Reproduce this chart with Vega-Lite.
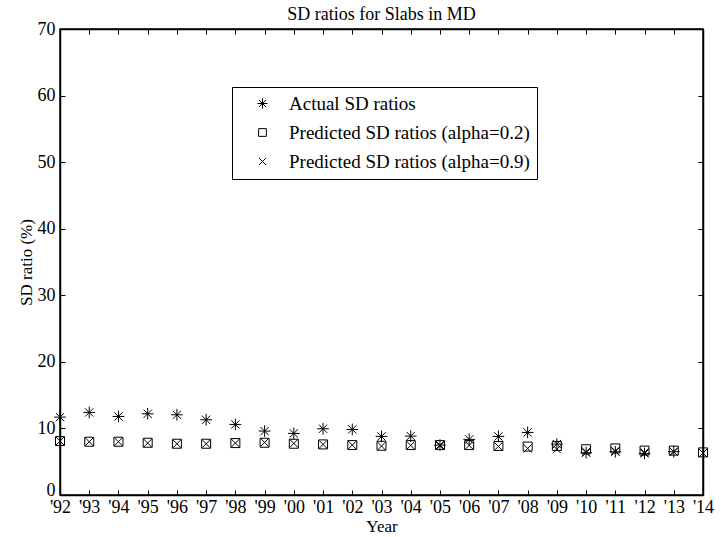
{
  "$schema": "https://vega.github.io/schema/vega-lite/v6.json",
  "autosize": "none",
  "width": 643,
  "height": 466,
  "padding": {"left": 60, "top": 29, "right": 18, "bottom": 42},
  "background": "white",
  "config": {
    "view": {"stroke": "black", "strokeWidth": 1.5},
    "axis": {"grid": false, "domainColor": "black", "domainWidth": 1.5, "tickColor": "black", "labelColor": "black", "titleColor": "black", "titleFontWeight": "normal", "tickSize": -5, "tickWidth": 1}
  },
  "title": {"text": "SD ratios for Slabs in MD", "font": "Liberation Serif", "fontSize": 18, "fontWeight": "normal", "color": "black", "offset": -4},
  "data": {"values": [
    {"year": 1992, "series": "Actual SD ratios", "value": 11.7},
    {"year": 1993, "series": "Actual SD ratios", "value": 12.4},
    {"year": 1994, "series": "Actual SD ratios", "value": 11.8},
    {"year": 1995, "series": "Actual SD ratios", "value": 12.2},
    {"year": 1996, "series": "Actual SD ratios", "value": 12.05},
    {"year": 1997, "series": "Actual SD ratios", "value": 11.3},
    {"year": 1998, "series": "Actual SD ratios", "value": 10.6},
    {"year": 1999, "series": "Actual SD ratios", "value": 9.6},
    {"year": 2000, "series": "Actual SD ratios", "value": 9.25},
    {"year": 2001, "series": "Actual SD ratios", "value": 9.95},
    {"year": 2002, "series": "Actual SD ratios", "value": 9.85},
    {"year": 2003, "series": "Actual SD ratios", "value": 8.8},
    {"year": 2004, "series": "Actual SD ratios", "value": 8.85},
    {"year": 2005, "series": "Actual SD ratios", "value": 7.5},
    {"year": 2006, "series": "Actual SD ratios", "value": 8.35},
    {"year": 2007, "series": "Actual SD ratios", "value": 8.8},
    {"year": 2008, "series": "Actual SD ratios", "value": 9.4},
    {"year": 2009, "series": "Actual SD ratios", "value": 7.65},
    {"year": 2010, "series": "Actual SD ratios", "value": 6.35},
    {"year": 2011, "series": "Actual SD ratios", "value": 6.5},
    {"year": 2012, "series": "Actual SD ratios", "value": 6.25},
    {"year": 2013, "series": "Actual SD ratios", "value": 6.5},
    {"year": 1992, "series": "Predicted SD ratios (alpha=0.2)", "value": 8.1},
    {"year": 1993, "series": "Predicted SD ratios (alpha=0.2)", "value": 8.0},
    {"year": 1994, "series": "Predicted SD ratios (alpha=0.2)", "value": 8.0},
    {"year": 1995, "series": "Predicted SD ratios (alpha=0.2)", "value": 7.85},
    {"year": 1996, "series": "Predicted SD ratios (alpha=0.2)", "value": 7.7},
    {"year": 1997, "series": "Predicted SD ratios (alpha=0.2)", "value": 7.7},
    {"year": 1998, "series": "Predicted SD ratios (alpha=0.2)", "value": 7.8},
    {"year": 1999, "series": "Predicted SD ratios (alpha=0.2)", "value": 7.85},
    {"year": 2000, "series": "Predicted SD ratios (alpha=0.2)", "value": 7.7},
    {"year": 2001, "series": "Predicted SD ratios (alpha=0.2)", "value": 7.6},
    {"year": 2002, "series": "Predicted SD ratios (alpha=0.2)", "value": 7.5},
    {"year": 2003, "series": "Predicted SD ratios (alpha=0.2)", "value": 7.4},
    {"year": 2004, "series": "Predicted SD ratios (alpha=0.2)", "value": 7.5},
    {"year": 2005, "series": "Predicted SD ratios (alpha=0.2)", "value": 7.5},
    {"year": 2006, "series": "Predicted SD ratios (alpha=0.2)", "value": 7.5},
    {"year": 2007, "series": "Predicted SD ratios (alpha=0.2)", "value": 7.37},
    {"year": 2008, "series": "Predicted SD ratios (alpha=0.2)", "value": 7.27},
    {"year": 2009, "series": "Predicted SD ratios (alpha=0.2)", "value": 7.37},
    {"year": 2010, "series": "Predicted SD ratios (alpha=0.2)", "value": 6.87},
    {"year": 2011, "series": "Predicted SD ratios (alpha=0.2)", "value": 7.0},
    {"year": 2012, "series": "Predicted SD ratios (alpha=0.2)", "value": 6.67},
    {"year": 2013, "series": "Predicted SD ratios (alpha=0.2)", "value": 6.67},
    {"year": 2014, "series": "Predicted SD ratios (alpha=0.2)", "value": 6.4},
    {"year": 1992, "series": "Predicted SD ratios (alpha=0.9)", "value": 8.1},
    {"year": 1993, "series": "Predicted SD ratios (alpha=0.9)", "value": 8.0},
    {"year": 1994, "series": "Predicted SD ratios (alpha=0.9)", "value": 8.0},
    {"year": 1995, "series": "Predicted SD ratios (alpha=0.9)", "value": 7.8},
    {"year": 1996, "series": "Predicted SD ratios (alpha=0.9)", "value": 7.7},
    {"year": 1997, "series": "Predicted SD ratios (alpha=0.9)", "value": 7.7},
    {"year": 1998, "series": "Predicted SD ratios (alpha=0.9)", "value": 7.8},
    {"year": 1999, "series": "Predicted SD ratios (alpha=0.9)", "value": 7.9},
    {"year": 2000, "series": "Predicted SD ratios (alpha=0.9)", "value": 7.75},
    {"year": 2001, "series": "Predicted SD ratios (alpha=0.9)", "value": 7.6},
    {"year": 2002, "series": "Predicted SD ratios (alpha=0.9)", "value": 7.5},
    {"year": 2003, "series": "Predicted SD ratios (alpha=0.9)", "value": 7.35},
    {"year": 2004, "series": "Predicted SD ratios (alpha=0.9)", "value": 7.45},
    {"year": 2005, "series": "Predicted SD ratios (alpha=0.9)", "value": 7.4},
    {"year": 2006, "series": "Predicted SD ratios (alpha=0.9)", "value": 7.45},
    {"year": 2007, "series": "Predicted SD ratios (alpha=0.9)", "value": 7.3},
    {"year": 2008, "series": "Predicted SD ratios (alpha=0.9)", "value": 7.0},
    {"year": 2009, "series": "Predicted SD ratios (alpha=0.9)", "value": 6.87},
    {"year": 2010, "series": "Predicted SD ratios (alpha=0.9)", "value": 6.5},
    {"year": 2011, "series": "Predicted SD ratios (alpha=0.9)", "value": 6.6},
    {"year": 2012, "series": "Predicted SD ratios (alpha=0.9)", "value": 6.4},
    {"year": 2013, "series": "Predicted SD ratios (alpha=0.9)", "value": 6.5},
    {"year": 2014, "series": "Predicted SD ratios (alpha=0.9)", "value": 6.3}
  ]},
  "layer": [
    {
      "mark": {"type": "point", "filled": false, "color": "black", "strokeWidth": 1, "size": 81, "opacity": 1},
      "encoding": {
        "x": {"field": "year", "type": "quantitative", "scale": {"domain": [1992, 2014], "nice": false, "zero": false},
          "axis": {"title": "Year", "labelFont": "Liberation Serif", "labelFontSize": 18, "titleFont": "Liberation Serif", "titleFontSize": 17, "values": [1992,1993,1994,1995,1996,1997,1998,1999,2000,2001,2002,2003,2004,2005,2006,2007,2008,2009,2010,2011,2012,2013,2014], "format": "d", "labelExpr": "\"'\" + substring(datum.label, 2)", "labelOverlap": false, "labelFlush": false, "labelPadding": 8, "titlePadding": 2}},
        "y": {"field": "value", "type": "quantitative", "scale": {"domain": [0, 70], "nice": false},
          "axis": {"title": "SD ratio (%)", "labelFont": "Liberation Serif", "labelFontSize": 18, "titleFont": "Liberation Serif", "titleFontSize": 17, "values": [0,10,20,30,40,50,60,70], "labelPadding": 10, "titlePadding": 2, "labelFlush": false,
            "labelOffset": {"condition": {"test": "datum.value === 0", "value": -5}, "value": 0}}},
        "shape": {"field": "series", "type": "nominal",
          "scale": {"domain": ["Actual SD ratios", "Predicted SD ratios (alpha=0.2)", "Predicted SD ratios (alpha=0.9)"],
            "range": ["M-1.3,0L1.3,0M0,-1.3L0,1.3M-0.92,-0.92L0.92,0.92M-0.92,0.92L0.92,-0.92", "square", "M-0.9,-0.9L0.9,0.9M-0.9,0.9L0.9,-0.9"]},
          "legend": {"title": null, "orient": "none", "legendX": 172, "legendY": 58, "fillColor": "white", "strokeColor": "black", "padding": 7, "symbolOffset": 14, "symbolSize": 60, "symbolStrokeColor": "black", "symbolStrokeWidth": 1, "symbolFillColor": "transparent", "labelFont": "Liberation Serif", "labelFontSize": 19, "labelColor": "black", "labelOffset": 17, "rowPadding": 9, "labelLimit": 400}}
      }
    },
    {
      "mark": {"type": "point", "opacity": 0},
      "encoding": {
        "x": {"field": "year", "type": "quantitative", "scale": {"domain": [1992, 2014], "nice": false, "zero": false},
          "axis": {"orient": "top", "title": null, "labels": false, "values": [1992,1993,1994,1995,1996,1997,1998,1999,2000,2001,2002,2003,2004,2005,2006,2007,2008,2009,2010,2011,2012,2013,2014]}},
        "y": {"field": "value", "type": "quantitative", "scale": {"domain": [0, 70], "nice": false},
          "axis": {"orient": "right", "title": null, "labels": false, "values": [0,10,20,30,40,50,60,70]}}
      }
    }
  ],
  "resolve": {"axis": {"x": "independent", "y": "independent"}}
}
